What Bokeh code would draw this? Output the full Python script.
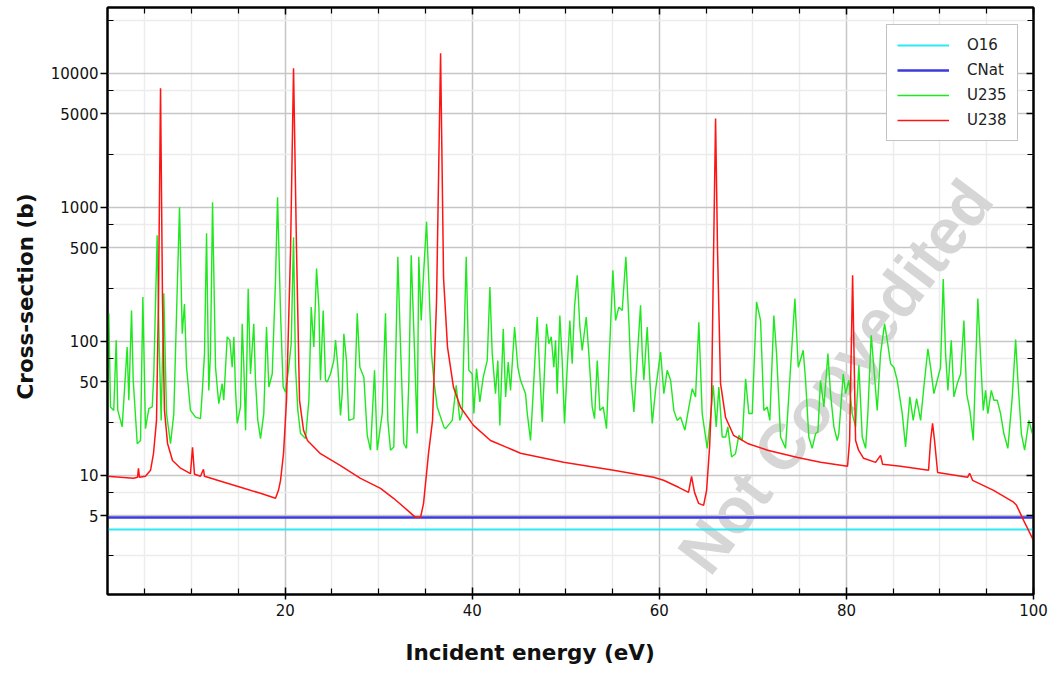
from bokeh.plotting import figure
from bokeh.models import (FixedTicker, LogAxis, LinearAxis, Legend, LegendItem, Label, Title,
                          NumeralTickFormatter, Range1d)
from bokeh.embed import file_html
from bokeh.resources import INLINE

# ---------------- data ----------------
energy_flat = [1.0, 100.0]
xs_o16 = [3.95, 3.95]
xs_cnat = [4.85, 4.85]

energy_u238 = [1.00, 3.78, 4.21, 4.31, 4.42, 5.06, 5.60, 5.92, 6.24, 6.45, 6.67, 6.88, 7.09, 7.42,
               7.95, 8.81, 9.87, 10.09, 10.30, 10.94, 11.26, 11.37, 12.76, 15.22, 17.36, 18.96,
               19.28, 19.50, 19.82, 20.14, 20.57, 20.89, 21.21, 21.53, 21.96, 22.38, 23.77, 25.91,
               28.05, 30.19, 31.58, 33.08, 33.93, 34.47, 34.79, 35.32, 35.75, 36.18, 36.61, 36.93,
               37.35, 37.99, 38.74, 40.13, 41.95, 45.16, 49.76, 55.10, 59.38, 60.45, 62.05, 63.12,
               63.44, 63.76, 64.19, 64.73, 65.05, 65.37, 65.58, 65.80, 66.01, 66.22, 66.54, 67.08,
               67.93, 69.43, 71.57, 74.78, 77.24, 80.12, 80.34, 80.66, 80.98, 81.30, 81.83, 83.12,
               83.65, 83.87, 85.79, 88.78, 89.00, 89.21, 89.42, 89.75, 92.95, 93.17, 93.49, 95.73,
               97.87, 98.19, 98.94, 100.0]
xs_u238 = [9.83, 9.50, 9.66, 11.3, 9.66, 9.83, 10.9, 14.6, 25.7, 202, 7730, 202, 30.5, 17.3,
           12.9, 11.3, 10.3, 16.2, 10.2, 9.83, 11.1, 9.83, 9.18, 8.14, 7.34, 6.74,
           7.73, 9.18, 14.6, 36.3, 478, 10900, 478, 36.3, 21.7, 18.2, 14.5, 11.8,
           9.50, 8.00, 6.74, 5.48, 4.86, 4.86, 6.18, 14.6, 25.7, 202, 14100, 295,
           90.6, 45.4, 32.2, 23.6, 18.2, 14.6, 12.5, 10.9, 9.66, 9.18, 8.14, 7.46,
           9.83, 7.46, 6.18, 5.97, 7.73, 16.2, 36.3, 478, 4610, 478, 48.6, 27.0,
           19.9, 17.3, 15.4, 13.6, 12.5, 11.7, 18.2, 311, 18.2, 15.4, 13.4, 12.5,
           14.1, 12.1, 11.7, 10.9, 18.2, 24.4, 18.2, 10.5, 9.66, 10.35, 9.18, 7.73,
           6.30, 5.97, 4.61, 3.27]

energy_u235 = [1.14, 1.32, 1.67, 1.93, 2.10, 2.57, 3.10, 3.28, 3.57, 3.75, 4.18, 4.53, 4.78, 5.06,
               5.42, 5.78, 5.95, 6.31, 6.53, 6.74, 7.02, 7.31, 7.74, 8.09, 8.45, 8.70, 8.99, 9.23,
               9.45, 9.87, 10.41, 10.94, 11.12, 11.37, 11.59, 11.83, 12.01, 12.23, 12.55, 12.73,
               12.90, 13.26, 13.43, 13.80, 14.08, 14.33, 14.51, 14.69, 14.87, 15.22, 15.40, 15.58,
               15.76, 16.04, 16.29, 16.64, 16.82, 17.07, 17.36, 17.71, 18.00, 18.25, 18.61, 18.96,
               19.18, 19.50, 19.78, 20.03, 20.38, 20.64, 20.89, 21.10, 21.35, 21.64, 22.17, 22.53,
               22.78, 23.06, 23.35, 23.60, 23.77, 24.06, 24.31, 24.49, 24.84, 25.20, 25.38, 25.63,
               25.91, 26.09, 26.27, 26.55, 26.80, 27.34, 27.70, 27.98, 28.41, 28.77, 29.12, 29.55,
               29.84, 30.37, 30.72, 30.97, 31.26, 31.61, 32.04, 32.33, 32.68, 32.97, 33.22, 33.47,
               33.75, 34.11, 34.28, 34.54, 34.75, 35.11, 35.35, 35.64, 35.89, 36.25, 36.96, 37.14,
               37.86, 38.28, 38.67, 38.92, 39.35, 39.63, 39.99, 40.17, 40.45, 40.81, 41.17, 41.60,
               41.88, 42.13, 42.48, 42.73, 42.95, 43.31, 43.56, 43.84, 44.09, 44.52, 44.87, 45.16,
               45.69, 45.88, 46.23, 46.58, 46.94, 47.19, 47.48, 47.94, 48.18, 48.44, 48.72, 48.90,
               49.08, 49.36, 49.61, 49.86, 50.15, 50.43, 50.68, 50.93, 51.22, 51.50, 51.75, 52.18,
               52.46, 52.82, 53.07, 53.36, 53.64, 54.00, 54.35, 54.60, 55.03, 55.32, 55.67, 56.03,
               56.42, 56.74, 56.99, 57.28, 57.64, 57.99, 58.17, 58.34, 58.70, 58.95, 59.24, 59.59,
               60.13, 60.48, 60.84, 61.20, 61.55, 61.91, 62.27, 62.73, 63.16, 63.52, 63.87, 64.22,
               64.58, 65.12, 65.47, 65.76, 66.08, 66.36, 66.72, 67.08, 67.32, 67.72, 68.14, 68.50,
               68.86, 69.22, 69.57, 69.93, 70.39, 70.82, 71.17, 71.53, 71.81, 72.24, 72.53, 72.96,
               73.49, 74.03, 74.49, 74.85, 75.38, 75.63, 75.98, 76.34, 76.70, 76.95, 77.23, 77.59,
               78.02, 78.30, 78.66, 79.02, 79.19, 79.66, 79.91, 80.26, 80.62, 80.98, 81.33, 81.69,
               82.05, 82.29, 82.65, 82.93, 83.29, 83.65, 84.08, 84.36, 84.72, 85.07, 85.43, 85.97,
               86.32, 86.78, 87.14, 87.50, 87.93, 88.28, 88.71, 89.00, 89.35, 89.71, 90.06, 90.35,
               90.60, 90.85, 91.21, 91.49, 91.85, 92.21, 92.56, 92.85, 93.20, 93.56, 94.05, 94.34,
               94.63, 94.88, 95.12, 95.49, 95.77, 96.13, 96.48, 96.83, 97.26, 97.73, 98.09, 98.33,
               98.70, 99.05, 99.51, 99.87]
xs_u235 = [162, 32.4, 30.5, 102, 30.5, 23.0, 90.6, 36.3, 170, 51.2, 17.2, 18.2, 214, 22.3,
           31.4, 32.4, 57.0, 618, 90.6, 25.7, 228, 28.9, 17.2, 28.9, 240, 1000, 114, 190,
           64.0, 30.5, 27.2, 26.5, 40.7, 81.0, 640, 43.0, 81.0, 1089, 64.0, 45.6,
           34.3, 48.4, 36.3, 108, 102, 64.0, 108, 43.0, 24.4, 32.4, 135, 64.0,
           21.7, 247, 57.0, 135, 51.2, 25.7, 18.8, 28.9, 128, 45.6, 57.0, 283,
           1187, 162, 45.6, 41.8, 64.0, 96.0, 597, 64.0, 30.5, 20.5, 18.8, 36.3,
           180, 90.6, 349, 180, 51.2, 170, 51.2, 49.7, 57.0, 72.0, 102, 64.0,
           28.0, 40.7, 114, 72.0, 25.7, 26.5, 162, 64.0, 54.0, 19.9, 15.4, 60.8,
           15.4, 28.9, 162, 25.7, 15.4, 16.3, 428, 90.6, 17.2, 15.9, 51.2, 438,
           121, 20.5, 428, 143, 283, 780, 283, 81.0, 51.2, 32.4, 23.0, 22.3,
           25.7, 47.0, 25.7, 28.9, 428, 60.8, 57.0, 28.9, 62.5, 35.3, 54.0, 72.0,
           254, 81.0, 40.7, 72.0, 23.6, 124, 38.5, 70.0, 43.0, 128, 64.0, 51.2,
           40.7, 28.9, 18.2, 51.2, 152, 64.0, 25.0, 135, 96.0, 108, 64.0, 102,
           40.7, 156, 72.0, 24.4, 64.0, 143, 68.0, 180, 311, 128, 85.7, 152,
           81.0, 32.4, 26.5, 72.0, 30.5, 32.4, 22.3, 64.0, 339, 143, 180, 170,
           428, 143, 51.2, 29.7, 76.0, 186, 81.0, 51.2, 128, 57.0, 24.4, 43.0,
           83.0, 40.7, 60.8, 51.2, 30.5, 25.7, 27.2, 21.7, 32.4, 44.3, 38.5, 139,
           28.9, 15.9, 27.2, 47.0, 23.0, 45.6, 19.3, 19.3, 23.0, 13.7, 14.5, 19.9,
           18.2, 52.6, 28.9, 28.9, 197, 143, 30.5, 32.4, 25.7, 156, 81.0, 19.3,
           15.9, 64.0, 209, 64.0, 85.7, 51.2, 19.3, 15.9, 20.5, 21.1, 51.2, 32.4,
           81.0, 40.7, 23.0, 18.2, 20.5, 57.0, 40.7, 51.2, 28.9, 23.0, 66.2, 19.3,
           15.9, 28.9, 111, 64.0, 30.5, 81.0, 135, 102, 68.0, 64.0, 51.2, 28.9,
           16.3, 38.5, 25.7, 37.4, 25.7, 45.6, 88.0, 64.0, 40.7, 51.2, 64.0, 292,
           81.0, 43.0, 102, 38.5, 48.4, 57.0, 143, 40.7, 30.5, 18.2, 209, 76.0,
           30.5, 43.0, 28.9, 43.0, 36.3, 36.3, 28.9, 20.5, 15.9, 38.5, 103, 51.2,
           20.5, 15.4, 25.7, 20.5]

series_names = ["O16", "CNat", "U235", "U238"]
x_major_ticks = [20, 40, 60, 80, 100]
x_minor_ticks = [5, 10, 15, 25, 30, 35, 45, 50, 55, 65, 70, 75, 85, 90, 95]
y_major_ticks = [5, 10, 50, 100, 500, 1000, 5000, 10000]
y_minor_ticks = [2.5, 7.5, 25, 75, 250, 750, 2500, 7500, 25000]

# ---------------- figure ----------------
FONT = "DejaVu Sans"

p = figure(width=1048, height=684, x_range=Range1d(1, 100), y_range=Range1d(1.29, 31000),
           y_axis_type="log", output_backend="svg", toolbar_location=None,
           min_border_left=107, min_border_right=15, min_border_top=7, min_border_bottom=90,
           background_fill_color="white", border_fill_color="white",
           outline_line_color="black", outline_line_width=2)

xt = FixedTicker(ticks=x_major_ticks, minor_ticks=x_minor_ticks)
yt = FixedTicker(ticks=y_major_ticks, minor_ticks=y_minor_ticks)

for ax in p.xaxis:
    ax.ticker = xt
    ax.major_tick_in = 7
    ax.major_tick_out = 5
    ax.minor_tick_in = 6
    ax.minor_tick_out = 0
    ax.major_label_standoff = 4
for ax in p.yaxis:
    ax.ticker = yt
    ax.formatter = NumeralTickFormatter(format="0")
    ax.major_tick_in = 0
    ax.major_tick_out = 7
    ax.minor_tick_in = 6
    ax.minor_tick_out = 0
    ax.major_label_standoff = 2

for ax in list(p.xaxis) + list(p.yaxis):
    ax.axis_line_width = 2
    ax.axis_line_color = "black"
    ax.major_tick_line_color = "black"
    ax.minor_tick_line_color = "black"
    ax.major_tick_line_width = 1.5
    ax.minor_tick_line_width = 1.2
    ax.major_label_text_font = FONT
    ax.major_label_text_font_size = "15px"
    ax.major_label_text_color = "#111111"

# mirrored tick marks on the top and right edges (no labels drawn)
mirror = dict(major_label_text_font_size="1px", major_label_text_color=None, major_label_standoff=0,
              major_tick_in=7, major_tick_out=0, minor_tick_in=6, minor_tick_out=0,
              axis_line_width=2, major_tick_line_width=1.5, minor_tick_line_width=1.2)
p.add_layout(LinearAxis(ticker=xt, **mirror), "above")
p.add_layout(LogAxis(ticker=yt, **mirror), "right")

for g in [p.xgrid[0], p.ygrid[0]]:
    g.grid_line_color = "#c6c6c6"
    g.grid_line_width = 1.5
    g.minor_grid_line_color = "#ececec"
    g.minor_grid_line_width = 1.5

# watermark (beneath the curves, kept inside the frame and clear of the legend)
p.add_layout(Label(x=728, y=218, x_units="screen", y_units="screen", text="Not Copyedited",
                   angle=52.8, angle_units="deg", text_align="center", text_baseline="middle",
                   text_font="Liberation Sans", text_font_style="bold", text_font_size="64px",
                   text_color="#d6d6d6", level="underlay"))

r_o16 = p.line(energy_flat, xs_o16, line_color="#2EE8F2", line_width=2)
r_cnat = p.line(energy_flat, xs_cnat, line_color="#3A3AE0", line_width=2.5)
r_u235 = p.line(energy_u235, xs_u235, line_color="#1EE81E", line_width=1.4)
r_u238 = p.line(energy_u238, xs_u238, line_color="#FF1414", line_width=1.5)

legend = Legend(items=[LegendItem(label=series_names[0], renderers=[r_o16]),
                       LegendItem(label=series_names[1], renderers=[r_cnat]),
                       LegendItem(label=series_names[2], renderers=[r_u235]),
                       LegendItem(label=series_names[3], renderers=[r_u238])],
                location=(779, 453), padding=10, spacing=5, margin=0,
                glyph_width=52, glyph_height=20, label_height=20, label_standoff=18,
                label_text_font=FONT, label_text_font_size="15px", label_text_color="#222222",
                border_line_color="#888888", border_line_width=1,
                background_fill_color="white", background_fill_alpha=1.0)
p.add_layout(legend)

# axis titles
p.add_layout(Title(text="Incident energy (eV)", align="left", offset=298, standoff=39,
                   text_font=FONT, text_font_style="bold", text_font_size="21.5px",
                   text_color="#111111"), "below")
p.add_layout(Title(text="Cross-section (b)", align="left", offset=195, standoff=20,
                   text_font=FONT, text_font_style="bold", text_font_size="21.5px",
                   text_color="#111111"), "left")

open("out.html", "w").write(file_html(p, INLINE))
